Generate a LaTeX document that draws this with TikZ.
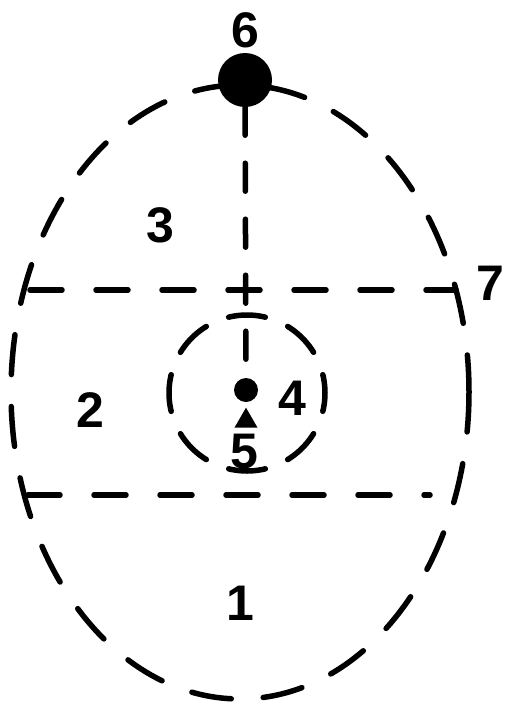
\documentclass[tikz,border=0pt]{standalone}
\usepackage{fontspec}
\setmainfont{Liberation Sans}
\usetikzlibrary{shapes.geometric}
\begin{document}
\begin{tikzpicture}[x=1pt,y=-1pt,
  dline/.style={line width=5.5pt,line cap=round,dash pattern=on 32pt off 34pt},
  lbl/.style={font=\fontsize{50}{50}\selectfont\bfseries,inner sep=0pt}]
\useasboundingbox[fill=white] (0,0) rectangle (512,707);
% outer egg
\draw[dline,dash pattern=on 40pt off 32pt] (240,392) ellipse [x radius=229, y radius=307];
% horizontal lines
\coordinate (h1a) at (30,290); \coordinate (h1b) at (456,290);
\coordinate (h2a) at (28,495); \coordinate (h2b) at (430,495);
\draw[dline] (h1a) -- (h1b);
\draw[dline] (h2a) -- (h2b);
% inner circle
\coordinate (cc) at (247,393);
\draw[dline,dash pattern=on 37pt off 24.26pt,dash phase=18.5pt] (cc) ++(0,-78) arc[start angle=-90,end angle=270,radius=78];
% nodes
\node[circle,fill=black,minimum size=54pt,inner sep=0pt] (six) at (245,80) {};
\node[circle,fill=black,minimum size=24pt,inner sep=0pt] (four) at (246,390) {};
\node[isosceles triangle,isosceles triangle apex angle=60,shape border rotate=90,fill=black,minimum size=20pt,inner sep=0pt] (five) at (246,421) {};
\draw[dline,dash pattern=on 28pt off 28pt] (six) -- (four);
\node[lbl] at (245,30) {6};
\node[lbl] at (292,398) {4};
\node[lbl] at (244,452) {5};
\node[lbl] at (490,283) {7};
\node[lbl] at (160,225) {3};
\node[lbl] at (90,410) {2};
\node[lbl] at (240,603) {1};
\end{tikzpicture}
\end{document}
